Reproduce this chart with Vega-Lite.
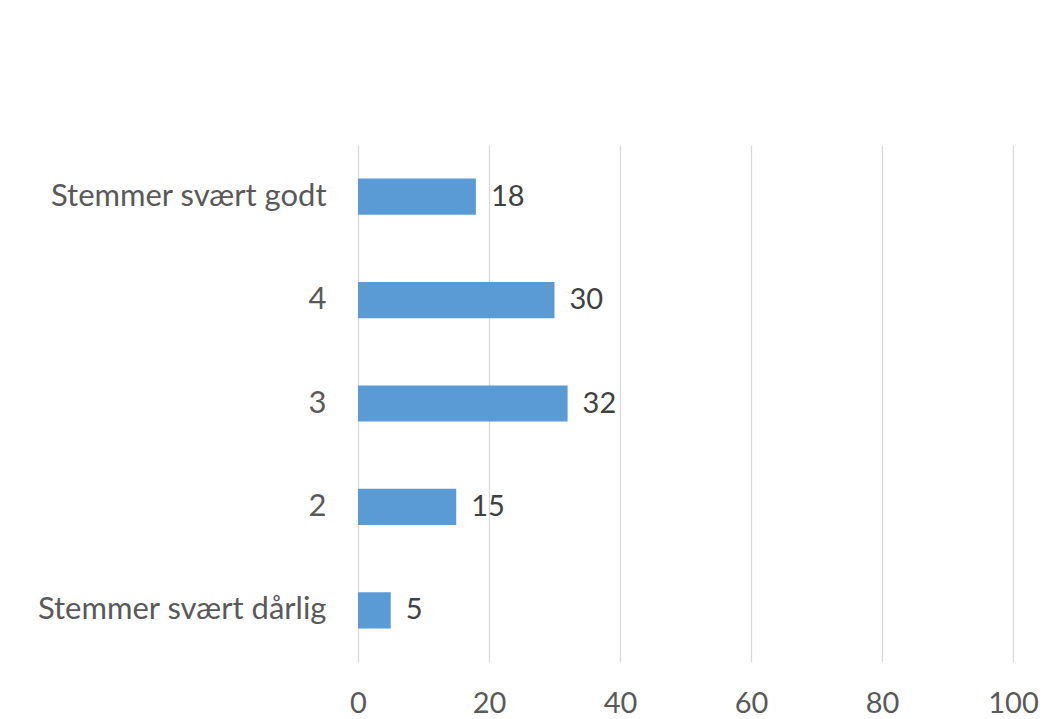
{
  "$schema": "https://vega.github.io/schema/vega-lite/v6.json",
  "width": 655,
  "height": 517,
  "autosize": {"type": "none"},
  "padding": {"left": 358, "top": 145, "right": 43, "bottom": 57},
  "background": "white",
  "config": {"view": {"stroke": null}, "font": "Lato"},
  "data": {"values": [
    {"kategori": "Stemmer svært godt", "verdi": 18},
    {"kategori": "4", "verdi": 30},
    {"kategori": "3", "verdi": 32},
    {"kategori": "2", "verdi": 15},
    {"kategori": "Stemmer svært dårlig", "verdi": 5}
  ]},
  "encoding": {
    "y": {"field": "kategori", "type": "nominal", "sort": null,
      "scale": {"paddingInner": 0.65, "paddingOuter": 0.325},
      "axis": {"title": null, "ticks": false, "domain": false, "labelFontSize": 31, "labelColor": "#595959", "labelPadding": 32, "labelFont": "Lato", "labelLimit": 400}},
    "x": {"field": "verdi", "type": "quantitative",
      "scale": {"domain": [0, 100], "nice": false},
      "axis": {"title": null, "values": [0, 20, 40, 60, 80, 100], "ticks": false, "domain": false, "grid": true, "gridColor": "#d9d9d9", "gridWidth": 1.3, "labelFontSize": 29, "labelColor": "#595959", "labelPadding": 27, "labelFont": "Lato", "labelFlush": false}}
  },
  "layer": [
    {"mark": {"type": "bar", "color": "#5b9bd5"}},
    {"mark": {"type": "text", "align": "left", "dx": 15, "fontSize": 29, "color": "#404040", "font": "Lato"},
     "encoding": {"text": {"field": "verdi", "type": "quantitative"}}}
  ]
}
